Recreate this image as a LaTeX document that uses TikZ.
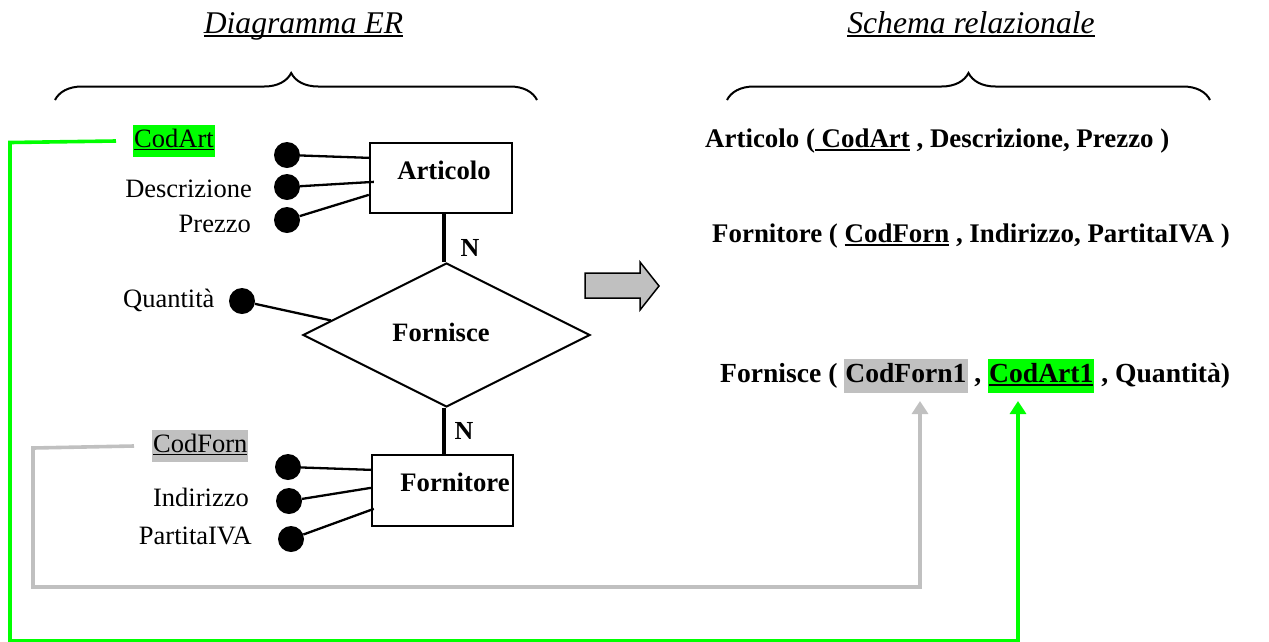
\documentclass[tikz,border=0pt]{standalone}
\usepackage{fontspec}
\setmainfont{Liberation Serif}
\usetikzlibrary{shapes.geometric,arrows.meta,decorations.pathreplacing,calc}
\definecolor{hlgreen}{HTML}{00FF00}
\definecolor{hlgray}{HTML}{C0C0C0}
% underline: #1 thickness, #2 drop below baseline, #3 text
\newcommand\ulx[3]{\leavevmode\setbox0\hbox{#3}\rlap{\rule[-#2]{\wd0}{#1}}\box0\relax}
% highlighted text
\newcommand\hlx[2]{{\setlength\fboxsep{1pt}\colorbox{#1}{\strut#2}}}

\begin{document}
\begin{tikzpicture}[x=1pt,y=-1pt,
  attr/.style={font=\fontsize{26.5}{30}\selectfont, inner sep=0pt},
  ent/.style={draw, line width=2.3pt, rectangle, inner sep=0pt},
  entlbl/.style={font=\fontsize{26.7}{30}\selectfont\bfseries, inner sep=0pt, anchor=base},
  reltxt/.style={font=\fontsize{26.9}{30}\selectfont\bfseries, inner sep=0pt, anchor=base west},
  dot/.style={circle, fill=black, inner sep=0pt, minimum size=26pt},
  link/.style={line width=2.3pt},
  card/.style={line width=3.4pt},
  title/.style={font=\fontsize{31.6}{34}\selectfont\itshape, inner sep=0pt, anchor=base},
  brc/.style={line width=2pt, decorate, decoration={brace, amplitude=27pt}},
  fkgreen/.style={draw=hlgreen, line width=3.6pt, -{Triangle[length=13pt,width=16pt]}},
  fkgray/.style={draw=hlgray, line width=3.6pt, -{Triangle[length=13pt,width=16pt]}}
]
\useasboundingbox (0,0) rectangle (1269,641);

% headings and braces
\node[title] (tER) at (303.5,33) {\ulx{2pt}{4pt}{Diagramma ER}};
\node[title] (tRel) at (971,33) {\ulx{2pt}{4pt}{Schema relazionale}};
\draw[brc, decoration={aspect=0.49}] (55,100) -- (537,100);
\draw[brc] (727,100) -- (1210,100);

% entity Articolo
\node[ent, minimum width=142pt, minimum height=70pt] (art) at (441,178) {};
\node[entlbl] (artt) at (444,179) {Articolo};
\node[dot] (da1) at (287,155) {};
\node[dot] (da2) at (287,187) {};
\node[dot] (da3) at (287,220) {};
\draw[link] (da1) -- ($(art.north west)+(0,16)$);
\draw[link] (da2) -- ($(art.north west)+(5,40)$);
\draw[link] (da3) -- ($(art.north west)+(0,53)$);
\node[attr, anchor=base west] (cal) at (133,147) {\hlx{hlgreen}{\ulx{1.3pt}{3pt}{CodArt}}};
\node[attr, anchor=base east] (dl) at (252,197) {Descrizione};
\node[attr, anchor=base east] (pl) at (251,232) {Prezzo};

% relationship Fornisce
\node[diamond, draw, line width=2pt, minimum width=287pt, minimum height=144pt, inner sep=0pt] (rel) at (446.5,335) {};
\node[entlbl, font=\fontsize{26.5}{30}\selectfont\bfseries] (relt) at (441,341) {Fornisce};
\node[dot] (dq) at (242,301) {};
\node[attr, anchor=base west] (ql) at (123,307) {Quantità};
\draw[link] (dq) -- ($(rel.west)!0.2!(rel.north)$);
\draw[card] ($(art.south)+(3,0)$) -- ($(rel.north)+(-2.5,0)$);
\node[entlbl, font=\fontsize{26}{30}\selectfont\bfseries] (n1) at (470,256) {N};

% entity Fornitore
\node[ent, minimum width=141pt, minimum height=71pt] (fo) at (442.5,490.5) {};
\node[entlbl] (fot) at (455,491) {Fornitore};
\draw[card] ($(rel.south)+(-2.5,0)$) -- ($(fo.north)+(1.5,0)$);
\node[entlbl, font=\fontsize{26}{30}\selectfont\bfseries] (n2) at (464,439) {N};
\node[dot] (df1) at (288,467) {};
\node[dot] (df2) at (289,501) {};
\node[dot] (df3) at (291,539) {};
\draw[link] (df1) -- ($(fo.north west)+(0,16)$);
\draw[link] (df2) -- ($(fo.north west)+(0,34)$);
\draw[link] (df3) -- ($(fo.north west)+(3,55)$);
\node[attr, anchor=base west] (cfl) at (152,452) {\hlx{hlgray}{\ulx{1.3pt}{3pt}{CodForn}}};
\node[attr, anchor=base east] (il) at (249,506) {Indirizzo};
\node[attr, anchor=base east] (pil) at (252,544) {PartitaIVA};

% translation arrow
\draw[line width=1.5pt, fill=hlgray] (585,273) -- (640,273) -- (640,262) -- (659,286)
  -- (640,310) -- (640,298) -- (585,298) -- cycle;

% relational schema
\node[reltxt] (rArt) at (705,147) {Articolo (\ulx{2.5pt}{4pt}{\ CodArt} , Descrizione, Prezzo )};
\node[reltxt] (rForn) at (712,242) {Fornitore ( \ulx{2.5pt}{4pt}{CodForn} , Indirizzo, PartitaIVA )};
\node[reltxt, font=\fontsize{27.6}{32}\selectfont\bfseries] (rFs) at (720,382)
  {Fornisce ( \hlx{hlgray}{CodForn1} , \hlx{hlgreen}{\ulx{2.5pt}{4pt}{CodArt1}} , Quantità)};

% foreign key links
\coordinate (g1) at (10,142.5);
\coordinate (g2) at (10,641);
\coordinate (g3) at (1018,641);
\coordinate (gt) at (1018,401);
\draw[fkgreen] ($(cal.west)+(-17,0)$) -- (g1) -- (g2) -- (g3) -- (gt);
\coordinate (h1) at (33,448);
\coordinate (h2) at (33,587);
\coordinate (h3) at (920,587);
\coordinate (ht) at (920,401);
\draw[fkgray] ($(cfl.west)+(-18,0)$) -- (h1) -- (h2) -- (h3) -- (ht);
\end{tikzpicture}
\end{document}
